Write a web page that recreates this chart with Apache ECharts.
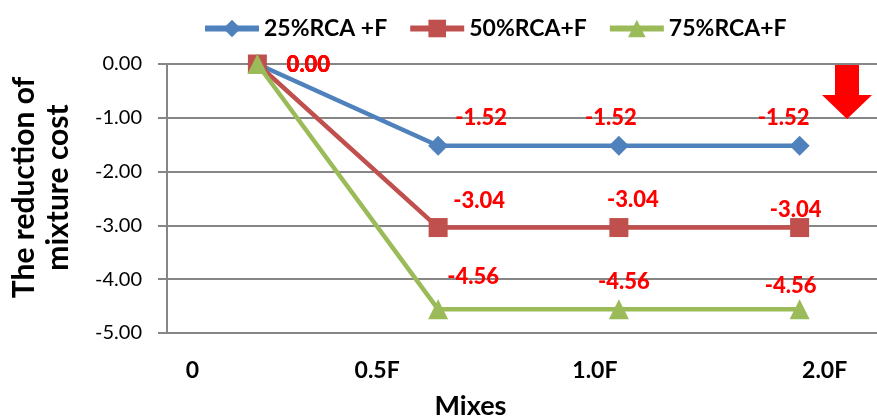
<!DOCTYPE html>
<html>
<head>
<meta charset="utf-8">
<script src="https://cdn.jsdelivr.net/npm/echarts@6/dist/echarts.min.js"></script>
<style>
html,body{margin:0;padding:0;background:#fff;}
#c{width:877px;height:419px;}
</style>
</head>
<body>
<div id="c"></div>
<script>
// ---- data ----
var categories = ['0', '0.5F', '1.0F', '2.0F'];
var seriesNames = ['25%RCA +F', '50%RCA+F', '75%RCA+F'];
var rca25 = [0.00, -1.52, -1.52, -1.52];
var rca50 = [0.00, -3.04, -3.04, -3.04];
var rca75 = [0.00, -4.56, -4.56, -4.56];
var yTicks = [0, -1, -2, -3, -4, -5];

// ---- style (label placement as in the original figure) ----
var labelOffsets = [
  [[51, 1], [43, -28], [-8, -28], [-16, -28]],
  [[51, 1], [41, -27], [14, -28], [-4, -18]],
  [[51, 1], [35, -32], [5, -27], [-9, -23]]
];
var colors = ['#4F81BD', '#C0504D', '#9BBB59'];
var symbols = ['diamond', 'rect', 'triangle'];
var symbolSizes = [20, 19, 20];
var FONT = 'Lato';

var labelStyle = {
  show: true,
  position: 'inside',
  color: '#FF0000',
  fontFamily: FONT,
  fontWeight: 900,
  fontSize: 22
};

function buildData(values, offs) {
  return values.map(function (v, i) {
    return { value: v, label: Object.assign({}, labelStyle, { offset: offs[i] }) };
  });
}

var allSeries = [rca25, rca50, rca75].map(function (vals, k) {
  return {
    name: seriesNames[k],
    type: 'line',
    data: buildData(vals, labelOffsets[k]),
    symbol: symbols[k],
    symbolSize: symbolSizes[k],
    showAllSymbol: true,
    lineStyle: { color: colors[k], width: 4.5 },
    itemStyle: { color: colors[k] },
    emphasis: { disabled: true },
    z: 2 + k,
    label: Object.assign({}, labelStyle, {
      formatter: function (p) { return p.value.toFixed(2); }
    })
  };
});

var xShift = [[0, 130, 0, 0], [0, 122, 0, 0], [0, 48, 0, 0], [0, 0, 0, 50]];
var rich = {};
xShift.forEach(function (p, i) {
  rich['c' + i] = { padding: p, fontFamily: FONT, fontWeight: 'bold', fontSize: 23, color: '#000' };
});

var chart = echarts.init(document.getElementById('c'), null, { renderer: 'canvas' });
chart.setOption({
  animation: false,
  backgroundColor: '#fff',
  textStyle: { fontFamily: FONT },
  grid: { left: 167, right: -13, top: 64, bottom: 86, containLabel: false, outerBoundsMode: 'none' },
  legend: {
    data: seriesNames,
    left: 197,
    top: 12,
    itemWidth: 54,
    itemHeight: 22,
    itemGap: 20,
    lineStyle: { width: 6 },
    textStyle: { fontFamily: FONT, fontWeight: 'bold', fontSize: 23, color: '#000' }
  },
  xAxis: {
    type: 'category',
    data: categories,
    boundaryGap: true,
    name: 'Mixes',
    nameLocation: 'middle',
    nameGap: 60,
    nameTextStyle: { fontFamily: FONT, fontWeight: 'bold', fontSize: 27, color: '#000', padding: [0, 116, 0, 0] },
    axisLine: { lineStyle: { color: '#868686', width: 2 } },
    axisTick: { show: false },
    splitLine: { show: false },
    axisLabel: {
      margin: 26,
      formatter: function (v, i) { return '{c' + i + '|' + v + '}'; },
      rich: rich
    }
  },
  yAxis: {
    type: 'value',
    min: yTicks[yTicks.length - 1],
    max: yTicks[0],
    interval: 1,
    name: 'The reduction of\nmixture cost',
    nameLocation: 'middle',
    nameGap: 92,
    nameRotate: 90,
    nameTextStyle: { fontFamily: FONT, fontWeight: 'bold', fontSize: 30, lineHeight: 34, color: '#000', padding: [0, 0, 0, 22] },
    axisLine: { show: true, lineStyle: { color: '#868686', width: 2 } },
    axisTick: { show: true, length: 9, lineStyle: { color: '#868686', width: 2 } },
    splitLine: { show: true, lineStyle: { color: '#868686', width: 2 } },
    axisLabel: {
      margin: 25,
      fontFamily: FONT,
      fontSize: 20,
      color: '#000',
      formatter: function (v) { return v.toFixed(2); }
    }
  },
  graphic: [{
    type: 'polygon',
    z: 100,
    shape: { points: [[835, 65], [859, 65], [859, 95], [872, 95], [847, 119], [822, 95], [835, 95]] },
    style: { fill: '#FF0000' }
  }],
  series: allSeries
});
</script>
</body>
</html>
